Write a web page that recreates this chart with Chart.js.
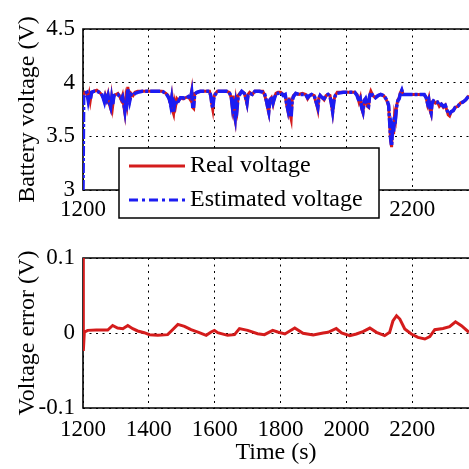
<!DOCTYPE html>
<html lang="en">
<head>
<meta charset="UTF-8">
<title>Battery voltage estimation</title>
<script src="https://cdn.jsdelivr.net/npm/chart.js"></script>
<style>
  body { margin: 0; background: #fff; }
  .wrap { position: relative; width: 469px; height: 469px; overflow: hidden; }
  canvas { position: absolute; left: 0; }
  #voltChart { top: 0; }
  #errChart { top: 235px; }
</style>
</head>
<body>
<div class="wrap">
  <canvas id="voltChart" width="469" height="235"></canvas>
  <canvas id="errChart" width="469" height="234"></canvas>
</div>
<script>
// ---- data ----
// time stamps (s) for the two voltage traces
const timeV = [
  1200, 1202, 1206, 1212, 1216, 1219, 1222, 1226, 1234, 1242,
  1250, 1256, 1262, 1265, 1268, 1272, 1276, 1280, 1284, 1287,
  1290, 1294, 1300, 1306, 1312, 1316, 1320, 1324, 1327, 1330,
  1333, 1336, 1339, 1342, 1346, 1352, 1358, 1366, 1380, 1400,
  1420, 1440, 1452, 1458, 1462, 1466, 1469, 1472, 1475, 1478,
  1481, 1485, 1490, 1496, 1504, 1512, 1520, 1526, 1530, 1533,
  1536, 1539, 1546, 1556, 1570, 1584, 1588, 1591, 1594, 1597,
  1600, 1608, 1620, 1636, 1644, 1650, 1653, 1656, 1659, 1662,
  1665, 1668, 1671, 1676, 1682, 1690, 1695, 1698, 1701, 1706,
  1714, 1722, 1736, 1746, 1752, 1757, 1761, 1764, 1767, 1772,
  1777, 1781, 1786, 1792, 1800, 1808, 1814, 1818, 1822, 1826,
  1829, 1832, 1835, 1839, 1846, 1856, 1866, 1876, 1882, 1888,
  1894, 1902, 1906, 1910, 1913, 1916, 1920, 1926, 1932, 1938,
  1944, 1950, 1954, 1958, 1962, 1966, 1972, 1990, 2010, 2025,
  2032, 2038, 2042, 2046, 2050, 2054, 2058, 2063, 2067, 2070,
  2074, 2080, 2088, 2096, 2104, 2112, 2118, 2124, 2128, 2131,
  2134, 2137, 2140, 2143, 2146, 2149, 2152, 2156, 2160, 2164,
  2168, 2172, 2180, 2200, 2220, 2236, 2242, 2246, 2250, 2254,
  2257, 2260, 2264, 2270, 2276, 2282, 2288, 2294, 2300, 2305,
  2309, 2313, 2318, 2324, 2330, 2338, 2346, 2354, 2362, 2372
];
const realVoltage = [
  3.88, 3.88, 3.91, 3.90, 3.84, 3.89, 3.83, 3.91, 3.92, 3.93,
  3.91, 3.89, 3.86, 3.83, 3.88, 3.84, 3.89, 3.80, 3.76, 3.86,
  3.78, 3.88, 3.89, 3.90, 3.87, 3.84, 3.88, 3.78, 3.72, 3.85,
  3.80, 3.96, 3.88, 3.84, 3.90, 3.88, 3.91, 3.92, 3.92, 3.92,
  3.92, 3.92, 3.90, 3.88, 3.84, 3.80, 3.86, 3.74, 3.71, 3.82,
  3.78, 3.85, 3.83, 3.86, 3.85, 3.86, 3.87, 3.84, 3.92, 3.77,
  3.76, 3.90, 3.91, 3.92, 3.92, 3.92, 3.87, 3.80, 3.75, 3.86,
  3.89, 3.92, 3.92, 3.92, 3.91, 3.86, 3.78, 3.88, 3.70, 3.65,
  3.82, 3.76, 3.88, 3.90, 3.92, 3.90, 3.84, 3.80, 3.89, 3.91,
  3.89, 3.92, 3.92, 3.92, 3.88, 3.82, 3.76, 3.72, 3.84, 3.86,
  3.80, 3.86, 3.90, 3.91, 3.91, 3.89, 3.88, 3.80, 3.74, 3.86,
  3.70, 3.66, 3.84, 3.88, 3.90, 3.89, 3.90, 3.89, 3.85, 3.88,
  3.89, 3.88, 3.83, 3.79, 3.75, 3.86, 3.88, 3.86, 3.84, 3.88,
  3.89, 3.88, 3.80, 3.72, 3.84, 3.88, 3.91, 3.91, 3.91, 3.91,
  3.89, 3.82, 3.86, 3.76, 3.72, 3.84, 3.85, 3.78, 3.77, 3.88,
  3.92, 3.88, 3.86, 3.88, 3.89, 3.88, 3.86, 3.82, 3.78, 3.62,
  3.46, 3.40, 3.62, 3.52, 3.70, 3.66, 3.78, 3.84, 3.86, 3.91,
  3.93, 3.89, 3.89, 3.89, 3.89, 3.89, 3.86, 3.80, 3.85, 3.74,
  3.71, 3.82, 3.83, 3.81, 3.82, 3.78, 3.80, 3.77, 3.79, 3.74,
  3.70, 3.69, 3.73, 3.74, 3.77, 3.78, 3.81, 3.82, 3.84, 3.88
];
const estVoltage = [
  3.00, 3.86, 3.90, 3.91, 3.83, 3.88, 3.84, 3.91, 3.92, 3.92,
  3.91, 3.90, 3.85, 3.82, 3.87, 3.84, 3.88, 3.81, 3.77, 3.85,
  3.79, 3.88, 3.89, 3.89, 3.87, 3.85, 3.87, 3.80, 3.74, 3.84,
  3.81, 3.94, 3.89, 3.83, 3.89, 3.88, 3.90, 3.91, 3.92, 3.92,
  3.92, 3.92, 3.90, 3.87, 3.85, 3.79, 3.85, 3.76, 3.72, 3.81,
  3.79, 3.84, 3.83, 3.86, 3.86, 3.85, 3.87, 3.85, 3.91, 3.78,
  3.78, 3.89, 3.91, 3.92, 3.92, 3.92, 3.88, 3.81, 3.76, 3.85,
  3.88, 3.92, 3.92, 3.92, 3.91, 3.87, 3.79, 3.86, 3.72, 3.67,
  3.81, 3.77, 3.87, 3.89, 3.92, 3.90, 3.85, 3.81, 3.88, 3.90,
  3.89, 3.92, 3.92, 3.91, 3.89, 3.83, 3.77, 3.73, 3.83, 3.87,
  3.81, 3.85, 3.90, 3.90, 3.91, 3.88, 3.89, 3.81, 3.75, 3.85,
  3.71, 3.68, 3.83, 3.87, 3.90, 3.89, 3.89, 3.89, 3.86, 3.88,
  3.89, 3.88, 3.84, 3.80, 3.77, 3.85, 3.88, 3.86, 3.85, 3.88,
  3.89, 3.87, 3.81, 3.73, 3.83, 3.88, 3.90, 3.91, 3.91, 3.91,
  3.88, 3.83, 3.85, 3.77, 3.73, 3.83, 3.85, 3.79, 3.78, 3.87,
  3.91, 3.88, 3.86, 3.88, 3.89, 3.88, 3.86, 3.83, 3.79, 3.64,
  3.48, 3.41, 3.58, 3.54, 3.69, 3.67, 3.77, 3.83, 3.85, 3.90,
  3.93, 3.89, 3.89, 3.89, 3.89, 3.89, 3.86, 3.81, 3.84, 3.75,
  3.72, 3.81, 3.83, 3.82, 3.82, 3.79, 3.80, 3.78, 3.79, 3.75,
  3.71, 3.71, 3.73, 3.74, 3.77, 3.78, 3.81, 3.82, 3.84, 3.88
];
// time stamps (s) and voltage error (V)
const timeE = [
  1200, 1201, 1204, 1214, 1240, 1275, 1290, 1305, 1321, 1336,
  1351, 1366, 1386, 1402, 1427, 1457, 1472, 1488, 1508, 1528,
  1553, 1574, 1589, 1599, 1609, 1639, 1660, 1675, 1700, 1730,
  1751, 1776, 1791, 1813, 1843, 1868, 1899, 1929, 1944, 1969,
  1985, 2010, 2030, 2050, 2071, 2091, 2116, 2131, 2141, 2152,
  2162, 2177, 2197, 2217, 2238, 2253, 2268, 2293, 2313, 2331,
  2349, 2372
];
const voltError = [
  0.12, -0.024, 0.001, 0.0035, 0.004, 0.004, 0.010, 0.0066, 0.0058, 0.010,
  0.0058, 0.0027, 0.0004, -0.0022, -0.0031, -0.0022, 0.0044, 0.0115, 0.0089, 0.0044,
  0.0004, -0.0031, 0.0013, 0.0035, 0.0004, -0.0031, -0.0022, 0.0058, 0.0035, -0.0009,
  -0.0022, 0.0035, 0.0013, -0.0013, 0.0066, -0.0004, -0.0027, 0.0, 0.0009, 0.006,
  0.0, -0.0035, -0.0013, 0.0018, 0.0066, 0.0009, -0.0035, 0.0009, 0.016, 0.023,
  0.0186, 0.0053, -0.0013, -0.0058, -0.008, -0.0049, 0.0044, 0.006, 0.0084, 0.015,
  0.0097, 0.0009
];
const xTicks = [1200, 1400, 1600, 1800, 2000, 2200];
const voltTicks = [3, 3.5, 4, 4.5];
const errTicks = [-0.1, 0, 0.1];
const seriesNames = ['Real voltage', 'Estimated voltage'];

// ---- styling ----
const SERIF = '"Liberation Serif", "DejaVu Serif", serif';
const RED = '#d41c1c';
const BLUE = '#1c1cf2';
Chart.defaults.font.family = SERIF;
Chart.defaults.color = '#000';

const toXY = (xs, ys) => xs.map((x, i) => ({ x: x, y: ys[i] }));

// draw the axes box (left, top, bottom) under the data
const framePlugin = {
  id: 'frame',
  beforeDatasetsDraw(chart) {
    const { ctx, chartArea: a } = chart;
    ctx.save();
    ctx.strokeStyle = '#000';
    ctx.lineWidth = 1.6;
    ctx.beginPath();
    ctx.moveTo(a.right + 2, a.top);
    ctx.lineTo(a.left, a.top);
    ctx.lineTo(a.left, a.bottom);
    ctx.lineTo(a.right + 2, a.bottom);
    ctx.stroke();
    ctx.restore();
  }
};

// MATLAB-style boxed legend sitting over the lower part of the top plot
const legendPlugin = {
  id: 'boxLegend',
  afterDraw(chart) {
    const { ctx, chartArea: a } = chart;
    const x0 = a.left + 36, y0 = a.top + 119, w = 260, h = 70;
    ctx.save();
    ctx.fillStyle = '#fff';
    ctx.fillRect(x0, y0, w, h);
    ctx.strokeStyle = '#000';
    ctx.lineWidth = 1.5;
    ctx.strokeRect(x0, y0, w, h);
    ctx.font = '24px ' + SERIF;
    ctx.textBaseline = 'middle';
    const rows = [
      { text: seriesNames[0], color: RED, dash: [], width: 3, y: y0 + 18 },
      { text: seriesNames[1], color: BLUE, dash: [9, 4, 3, 4], width: 3, y: y0 + 52 }
    ];
    rows.forEach(r => {
      ctx.strokeStyle = r.color;
      ctx.lineWidth = r.width;
      ctx.setLineDash(r.dash);
      ctx.beginPath();
      ctx.moveTo(x0 + 10, r.y);
      ctx.lineTo(x0 + 66, r.y);
      ctx.stroke();
      ctx.setLineDash([]);
      ctx.fillStyle = '#000';
      ctx.fillText(r.text, x0 + 71, r.y);
    });
    ctx.restore();
  }
};

function axes(opts) {
  return {
    x: {
      type: 'linear',
      min: 1200,
      max: 2372,
      afterBuildTicks: s => { s.ticks = xTicks.map(v => ({ value: v })); },
      afterFit: s => { s.height = opts.xHeight; },
      ticks: {
        autoSkip: false, maxRotation: 0, padding: opts.xPad,
        font: { size: 23 },
        callback: v => String(v)
      },
      grid: { color: '#000', lineWidth: 1, drawTicks: false },
      border: { display: false, dash: [2, 4.5] },
      title: {
        display: !!opts.xTitle, text: opts.xTitle,
        font: { size: 24 }, padding: { top: 0, bottom: 2 }
      }
    },
    y: {
      min: opts.yMin,
      max: opts.yMax,
      afterBuildTicks: s => { s.ticks = opts.yTicks.map(v => ({ value: v })); },
      afterFit: s => { s.width = 83; },
      ticks: {
        padding: 8, font: { size: 23 },
        callback: v => String(Math.round(v * 100) / 100)
      },
      grid: { color: '#000', lineWidth: 1, drawTicks: false },
      border: { display: false, dash: [2, 4.5] },
      title: {
        display: true, text: opts.yTitle,
        font: { size: 24 }, padding: { top: 13, bottom: 0 }
      }
    }
  };
}

const common = {
  responsive: false,
  animation: false,
  devicePixelRatio: 1,
  plugins: { legend: { display: false }, tooltip: { enabled: false } },
  elements: { point: { radius: 0 }, line: { tension: 0 } }
};

new Chart(document.getElementById('voltChart'), {
  type: 'line',
  data: {
    datasets: [
      {
        label: seriesNames[0], data: toXY(timeV, realVoltage),
        borderColor: RED, borderWidth: 3, order: 1
      },
      {
        label: seriesNames[1], data: toXY(timeV, estVoltage),
        borderColor: BLUE, borderWidth: 3.5, borderDash: [10, 2, 3, 2], order: 0
      }
    ]
  },
  options: Object.assign({}, common, {
    layout: { padding: { top: 29, left: 0, right: 0, bottom: 0 } },
    scales: axes({
      yMin: 3, yMax: 4.5, yTicks: voltTicks,
      yTitle: 'Battery voltage (V)', xTitle: '', xHeight: 45, xPad: 6
    })
  }),
  plugins: [framePlugin, legendPlugin]
});

new Chart(document.getElementById('errChart'), {
  type: 'line',
  data: {
    datasets: [
      { label: 'Voltage error', data: toXY(timeE, voltError), borderColor: RED, borderWidth: 3 }
    ]
  },
  options: Object.assign({}, common, {
    layout: { padding: { top: 23, left: 0, right: 0, bottom: 0 } },
    scales: axes({
      yMin: -0.1, yMax: 0.1, yTicks: errTicks,
      yTitle: 'Voltage error (V)', xTitle: 'Time (s)', xHeight: 61, xPad: 8
    })
  }),
  plugins: [framePlugin]
});
</script>
</body>
</html>
